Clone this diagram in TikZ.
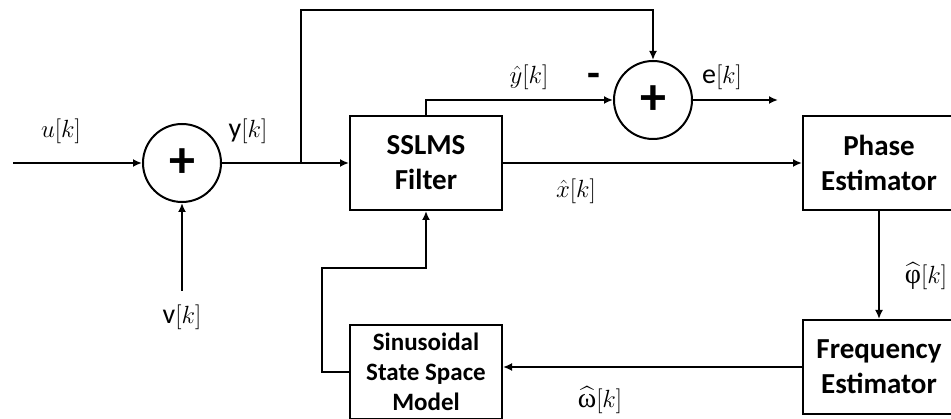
\documentclass[tikz,border=0pt]{standalone}
\usepackage{fontspec}
\usepackage{amsmath}
\setsansfont{Carlito}
\newfontfamily\grkfont{Liberation Serif}
\usetikzlibrary{positioning,arrows.meta}

\begin{document}
\begin{tikzpicture}[
    x=1pt, y=-1pt,
    >={Latex[length=9pt,width=8pt]},
    font=\sffamily\bfseries\fontsize{29}{35}\selectfont,
    block/.style={draw, line width=2pt, minimum width=152, minimum height=94,
      align=center, inner sep=2pt},
    sum/.style={circle, draw, line width=2pt, minimum size=78, inner sep=0pt,
      font=\sffamily\bfseries\fontsize{52}{52}\selectfont},
    sig/.style={font=\normalfont\fontsize{28}{32}\selectfont, inner sep=0pt},
    arr/.style={->, line width=2pt},
  ]
\useasboundingbox (0,0) rectangle (951,419);

% Blocks
\node[sum] (sumA) at (182,163) {+};
\node[block] (filter) at (426,163) {SSLMS\\Filter};
\node[sum] (sumB) at (653,100) {+};
\node[block] (phase) at (879,163) {Phase\\Estimator};
\node[block] (freq) at (879,367) {Frequency\\Estimator};
\node[block, font=\sffamily\bfseries\fontsize{25}{30}\selectfont] (model) at (426,372) {Sinusoidal\\State Space\\Model};

% Free ends and bends
\coordinate (uin) at (13,163);
\coordinate (vin) at (182,291);
\coordinate (tap) at (301,163);
\coordinate (top) at (301,10);
\coordinate (eout) at (778,100);
\coordinate (fbk) at (322,268);

% Signals
\draw[arr] (uin) -- (sumA);
\draw[arr] (vin) -- (sumA);
\draw[arr] (sumA) -- (filter);
\draw[arr] (tap) -- (top) -| (sumB);
\draw[arr] (filter.north) |- (sumB);
\draw[arr] (sumB) -- (eout);
\draw[arr] (filter) -- (phase);
\draw[arr] (phase) -- (freq);
\draw[arr] (freq.west) -- (freq.west -| model.east);
\draw[arr] (model.west) -| (fbk) -| (filter.south);

% Labels
\node[sig] (lu) at (61,131) {$u[k]$};
\node[sig] (ly) at (248,131) {\textsf{y}$[k]$};
\node[sig] (lv) at (182,317) {\textsf{v}$[k]$};
\node[sig] (lyh) at (529,77) {$\hat{y}[k]$};
\node[font=\sffamily\bfseries\fontsize{42}{42}\selectfont, inner sep=0pt] (lminus) at (594,80) {-};
\node[sig] (le) at (722,77) {\textsf{e}$[k]$};
\node[sig] (lxh) at (576,191) {$\hat{x}[k]$};
\node[sig] (lphi) at (926,276) {$\widehat{\text{\grkfont φ}}[k]$};
\node[sig] (lom) at (600,400) {$\widehat{\text{\grkfont ω}}[k]$};

\end{tikzpicture}
\end{document}
